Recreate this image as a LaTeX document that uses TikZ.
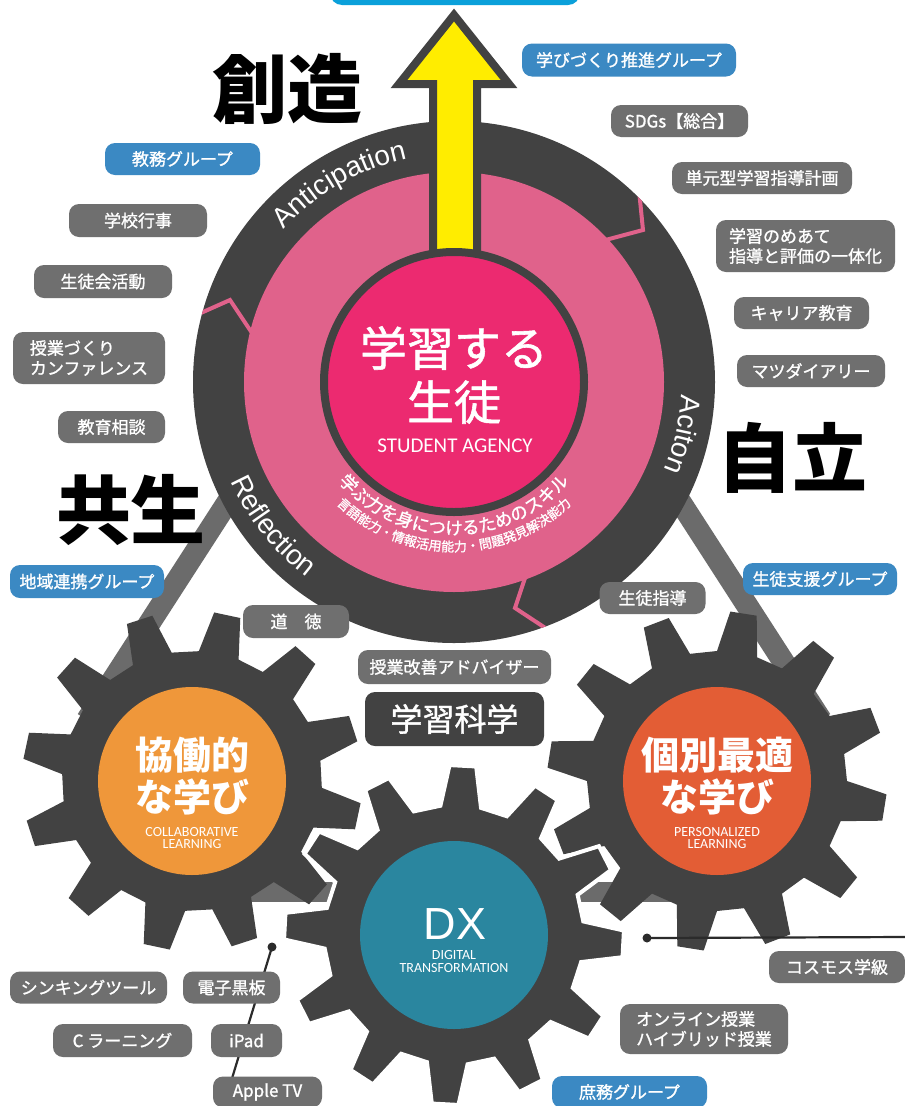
\documentclass[tikz,border=0pt]{standalone}
\usepackage{fontspec}
\setmainfont{Liberation Sans}
\newfontfamily\jp{Noto Sans CJK JP}
\newfontfamily\jpm{Noto Sans CJK JP}[FakeBold=1.2]
\newfontfamily\opt{Carlito}
\usetikzlibrary{decorations.text}
\definecolor{dk}{HTML}{424242}
\definecolor{pk}{HTML}{E0628B}
\definecolor{pkd}{HTML}{EC2A70}
\definecolor{yl}{HTML}{FFED00}
\definecolor{tg}{HTML}{6F6F6F}
\definecolor{tb}{HTML}{3B89C3}
\definecolor{topb}{HTML}{0BA0DA}
\definecolor{barc}{HTML}{6B6B6B}
\definecolor{org}{HTML}{EF973A}
\definecolor{rdo}{HTML}{E35D35}
\definecolor{tl}{HTML}{2A869F}
\definecolor{ink}{HTML}{2B2B2B}
\newcommand{\gearshape}[3]{%
 \begin{scope}[shift={(#1)}]
 \path[#3] ({#2-9}:130) \foreach \k in {0,...,11}{ -- ({#2+30*\k-9}:130) -- ({#2+30*\k-4.5}:170) -- ({#2+30*\k+4.5}:170) -- ({#2+30*\k+9}:130) -- ({#2+30*\k+21}:130)} -- cycle;
 \end{scope}}
\tikzset{
 tag/.style={fill=tg, rounded corners=10pt, text=white, font=\jpm\fontsize{17}{20}\selectfont, inner sep=0pt, align=center},
 btag/.style={tag, fill=tb},
 ringtxt/.style={decorate, decoration={text along path, text align=center, text={|\color{white}\fontsize{28}{30}\selectfont|#1}}},
 brush/.style={font=\jp\bfseries\fontsize{75}{75}\selectfont, text=black, inner sep=0pt},
 bigjp/.style={font=\jp\bfseries\fontsize{38}{42}\selectfont, text=white, align=center, inner sep=0pt},
 smallen/.style={font=\opt\fontsize{14}{12}\selectfont, text=white, align=center, inner sep=0pt},
}
\begin{document}
\begin{tikzpicture}[x=1pt,y=1pt]
\clip (0,0) rectangle (905,-1106);
\fill[white] (0,0) rectangle (905,-1106);
% top box
\fill[topb, rounded corners=12pt] (330,30) rectangle (580,-5);
% bars
\draw[barc, line width=22pt] (318,-362) -- (87,-720);
\draw[barc, line width=22pt] (590,-362) -- (821,-720);
\draw[barc, line width=20pt] (192,-892) -- (717,-892);
% main circle
\coordinate (mc) at (454,-382);
\fill[dk] (mc) circle[radius=261pt];
\begin{scope}
\clip (mc) circle[radius=261pt];
\draw[pk, line width=4pt, line join=miter] (185,-320) -- (230,-300) -- (256,-339);
\draw[pk, line width=4pt, line join=miter] (639,-190) -- (643,-230) -- (598,-242);
\draw[pk, line width=4pt, line join=miter] (527,-572) -- (515,-608) -- (553,-633);
\end{scope}
\fill[pk] (mc) circle[radius=210pt];
% arrow
\filldraw[fill=yl, draw=dk, line width=8pt, line join=miter] (433,-290) -- (433,-84) -- (399,-84) -- (454,-15) -- (509,-84) -- (477,-84) -- (477,-290);
% inner circle
\filldraw[fill=pkd, draw=dk, line width=8pt] (mc) circle[radius=130pt];
% ring texts
\begin{scope}[shift={(mc)}]
\path[ringtxt=Anticipation] (160:228) arc[start angle=160, end angle=80, radius=228pt];
\path[ringtxt=Reflection] (180:244.5) arc[start angle=180, end angle=257, radius=244.5pt];
\path[ringtxt=Aciton] (20:228) arc[start angle=20, end angle=-46, radius=228pt];
\path[decorate, decoration={text along path, text align=center, text={|\jpm\color{white}\fontsize{17.5}{20}\selectfont|学ぶ力を身につけるためのスキル}}] (180:152.5) arc[start angle=180, end angle=360, radius=152.5pt];
\path[decorate, decoration={text along path, text align=center, text={|\jpm\color{white}\fontsize{13}{15}\selectfont|言語能力・情報活用能力・問題発見解決能力}}] (180:169.5) arc[start angle=180, end angle=360, radius=169.5pt];
\end{scope}
\node[font=\jpm\fontsize{47}{54}\selectfont, text=white, align=center, inner sep=0pt] (stu) at (454,-375) {学習する\\生徒};
\node[font=\opt\fontsize{21}{21}\selectfont, text=white, inner sep=0pt] (sa) at (455,-445.5) {STUDENT AGENCY};
% gears
\gearshape{192,-781}{18}{fill=dk}
\gearshape{717,-781}{21}{fill=dk}
\fill[org] (192,-781) circle[radius=94pt];
\fill[rdo] (717,-781) circle[radius=94pt];
\gearshape{454,-935}{27}{fill=dk, draw=white, line width=4pt}
\fill[tl] (454,-935) circle[radius=94pt];
\node[bigjp] (collab) at (192,-776) {協働的\\な学び};
\node[smallen] (collaben) at (192,-838) {COLLABORATIVE\\LEARNING};
\node[bigjp] (pers) at (717,-776) {個別最適\\な学び};
\node[smallen] (persen) at (717,-838) {PERSONALIZED\\LEARNING};
\node[font=\fontsize{45}{45}\selectfont, text=white, inner sep=0pt] (dx) at (455,-924) {DX};
\node[smallen, font=\opt\fontsize{14}{13}\selectfont] (dxen) at (454,-961.5) {DIGITAL\\TRANSFORMATION};
% connectors
\coordinate (dotA) at (272,-947);
\coordinate (dotAe) at (230,-1085);
\coordinate (dotB) at (647,-938);
\coordinate (dotBe) at (906,-937);
\draw[ink, line width=2.2pt] (dotA) -- (dotAe);
\fill[ink] (dotA) circle[radius=4.5pt];
\draw[ink, line width=2.2pt] (dotB) -- (dotBe);
\fill[ink] (dotB) circle[radius=4.5pt];
% tags
\node[btag, minimum width=214pt, minimum height=33pt] (t1) at (629,-60) {学びづくり推進グループ};
\node[tag, minimum width=137pt, minimum height=32pt] (t2) at (679.5,-121) {SDGs【総合】};
\node[tag, minimum width=180pt, minimum height=32pt] (t3) at (762,-178) {単元型学習指導計画};
\node[tag, minimum width=179pt, minimum height=52pt, align=left] (t4) at (805.5,-246) {学習のめあて\\指導と評価の一体化};
\node[tag, minimum width=135pt, minimum height=32pt] (t5) at (801.5,-313) {キャリア教育};
\node[tag, minimum width=148pt, minimum height=32pt] (t6) at (811,-371) {マツダイアリー};
\node[btag, minimum width=155pt, minimum height=32pt] (t7) at (182.5,-159) {教務グループ};
\node[tag, minimum width=138pt, minimum height=33pt] (t8) at (138,-220.5) {学校行事};
\node[tag, minimum width=138pt, minimum height=33pt] (t9) at (103,-281.5) {生徒会活動};
\node[tag, minimum width=152pt, minimum height=52pt, align=left] (t10) at (89,-358) {授業づくり\\カンファレンス};
\node[tag, minimum width=107pt, minimum height=32pt] (t11) at (111.5,-427) {教育相談};
\node[btag, minimum width=154pt, minimum height=33pt] (t12) at (87,-581.5) {地域連携グループ};
\node[btag, minimum width=154pt, minimum height=32pt] (t13) at (820,-579) {生徒支援グループ};
\node[tag, minimum width=106pt, minimum height=32pt] (t14) at (652.5,-598) {生徒指導};
\node[tag, minimum width=106pt, minimum height=33pt] (t15) at (296,-621.5) {道　徳};
\node[tag, minimum width=193pt, minimum height=34pt] (t16) at (454.5,-667) {授業改善アドバイザー};
\node[tag, fill=dk, minimum width=179pt, minimum height=54pt, font=\jpm\fontsize{32}{34}\selectfont] (t17) at (454.5,-719) {学習科学};
\node[tag, minimum width=136pt, minimum height=32pt] (t18) at (837,-967) {コスモス学級};
\node[tag, minimum width=168pt, minimum height=50pt, align=left] (t19) at (704,-1029) {オンライン授業\\ハイブリッド授業};
\node[btag, minimum width=155pt, minimum height=32pt] (t20) at (629.5,-1092) {庶務グループ};
\node[tag, minimum width=157pt, minimum height=32pt] (t21) at (88.5,-987.5) {シンキングツール};
\node[tag, minimum width=97pt, minimum height=32pt] (t22) at (231.5,-987.5) {電子黒板};
\node[tag, minimum width=139pt, minimum height=33pt] (t23) at (122.5,-1040.5) {C ラーニング};
\node[tag, minimum width=71pt, minimum height=33pt] (t24) at (246.5,-1040.5) {iPad};
\node[tag, minimum width=109pt, minimum height=31pt] (t25) at (267.5,-1092) {Apple TV};
% brush words
\node[brush] (sozo) at (287,-89) {創造};
\node[brush] (kyosei) at (131,-510) {共生};
\node[brush] (jiritsu) at (792,-458) {自立};
\end{tikzpicture}
\end{document}
